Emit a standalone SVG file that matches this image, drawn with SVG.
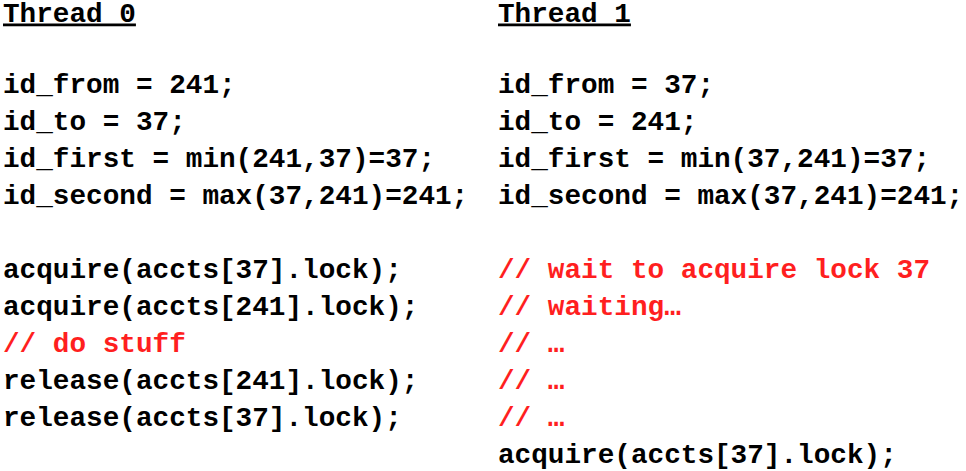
<svg xmlns="http://www.w3.org/2000/svg" width="966" height="471" viewBox="0 0 966 471">
<style>
text{font-family:"Liberation Mono","Courier New",monospace;font-weight:bold;font-size:27.7px;fill:#000;white-space:pre}
.r{fill:#ff1f1f}
.h{text-decoration:underline}
</style>
<rect width="966" height="471" fill="#fff"/>
<g id="thread0">
<text class="h" x="3" y="21.5">Thread 0</text>
<text x="3" y="93">id_from = 241;</text>
<text x="3" y="130">id_to = 37;</text>
<text x="3" y="167">id_first = min(241,37)=37;</text>
<text x="3" y="204">id_second = max(37,241)=241;</text>
<text x="3" y="278">acquire(accts[37].lock);</text>
<text x="3" y="315">acquire(accts[241].lock);</text>
<text class="r" x="3" y="352">// do stuff</text>
<text x="3" y="389">release(accts[241].lock);</text>
<text x="3" y="426">release(accts[37].lock);</text>
</g>
<g id="thread1">
<text class="h" x="498" y="21.5">Thread 1</text>
<text x="498" y="93">id_from = 37;</text>
<text x="498" y="130">id_to = 241;</text>
<text x="498" y="167">id_first = min(37,241)=37;</text>
<text x="498" y="204">id_second = max(37,241)=241;</text>
<text class="r" x="498" y="278">// wait to acquire lock 37</text>
<text class="r" x="498" y="315">// waiting…</text>
<text class="r" x="498" y="352">// …</text>
<text class="r" x="498" y="389">// …</text>
<text class="r" x="498" y="426">// …</text>
<text x="498" y="463">acquire(accts[37].lock);</text>
</g>
<g id="connectors"/>
</svg>
